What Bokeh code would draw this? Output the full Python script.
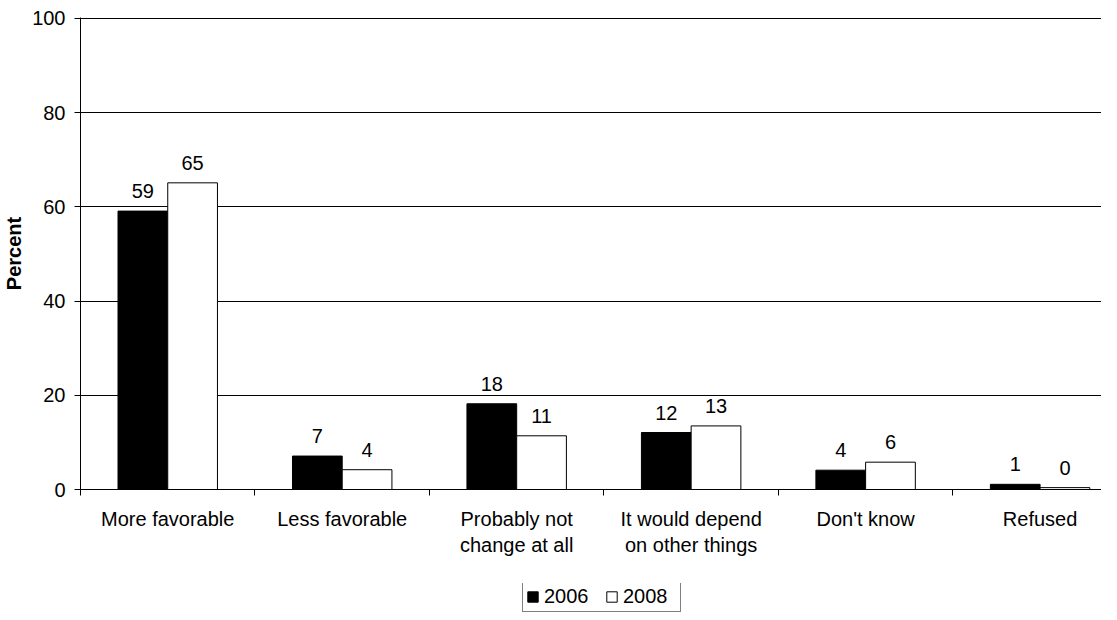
from bokeh.plotting import figure
from bokeh.models import (Range1d, FixedTicker, LinearAxis, Legend, LegendItem,
                          ColumnDataSource, Grid)
from bokeh.layouts import column
from bokeh.core.properties import value
from bokeh.embed import file_html
from bokeh.resources import INLINE

categories = ["More favorable", "Less favorable", "Probably not\nchange at all",
              "It would depend\non other things", "Don't know", "Refused"]
series_names = ["2006", "2008"]
values_2006 = [59.1, 7.1, 18.2, 12.1, 4.1, 1.1]
values_2008 = [65.1, 4.2, 11.4, 13.5, 5.8, 0.4]
labels_2006 = ["59", "7", "18", "12", "4", "1"]
labels_2008 = ["65", "4", "11", "13", "6", "0"]
y_ticks = [0, 20, 40, 60, 80, 100]

FONT = "Liberation Sans"
FS = "20px"
BAR_W = 0.285

n = len(categories)
centers = [i + 0.5 for i in range(n)]
x06 = [c - BAR_W / 2 for c in centers]
x08 = [c + BAR_W / 2 for c in centers]

p = figure(width=1101, height=583, output_backend="svg", toolbar_location=None,
           x_range=Range1d(0, 5.852), y_range=Range1d(0, 100.2),
           min_border_left=75, min_border_right=0, min_border_top=17,
           min_border_bottom=94, x_axis_type=None, y_axis_type=None)
p.outline_line_color = None
p.background_fill_color = "white"
p.border_fill_color = "white"

# y axis
yax = LinearAxis(ticker=FixedTicker(ticks=y_ticks))
yax.axis_label = "Percent"
yax.axis_label_text_font = FONT
yax.axis_label_text_font_size = FS
yax.axis_label_text_font_style = "bold"
yax.axis_label_text_color = "black"
yax.axis_label_standoff = 4
yax.major_label_text_font = FONT
yax.major_label_text_font_size = FS
yax.major_label_text_color = "black"
yax.major_label_standoff = 9
yax.major_tick_out = 6
yax.major_tick_in = 0
yax.minor_tick_out = 0
yax.minor_tick_in = 0
yax.axis_line_color = "black"
yax.major_tick_line_color = "black"
p.add_layout(yax, "left")

# x axis: labels at centres, ticks at category boundaries
xax = LinearAxis(ticker=FixedTicker(ticks=centers, minor_ticks=list(range(n + 1))))
xax.major_label_overrides = {c: lab for c, lab in zip(centers, categories)}
xax.major_label_text_font = FONT
xax.major_label_text_font_size = FS
xax.major_label_text_color = "black"
xax.major_label_standoff = 12
xax.major_tick_out = 0
xax.major_tick_in = 0
xax.minor_tick_out = 6
xax.minor_tick_in = 0
xax.minor_tick_line_color = "black"
xax.axis_line_color = "black"
p.add_layout(xax, "below")

grid = Grid(dimension=1, ticker=FixedTicker(ticks=y_ticks),
            grid_line_color="black", grid_line_width=1)
p.add_layout(grid)

src06 = ColumnDataSource(dict(x=x06, top=values_2006, lab=labels_2006))
src08 = ColumnDataSource(dict(x=x08, top=values_2008, lab=labels_2008))

p.vbar(x="x", top="top", width=BAR_W, bottom=0, source=src06,
       fill_color="black", line_color="black", line_width=1)
p.vbar(x="x", top="top", width=BAR_W, bottom=0, source=src08,
       fill_color="white", line_color="black", line_width=1)

for src in (src06, src08):
    p.text(x="x", y="top", text="lab", source=src, text_align="center",
           text_baseline="alphabetic", y_offset=-20,
           text_font=value(FONT), text_font_size=FS, text_color="black")

# legend strip below the chart
pl = figure(width=1101, height=29, output_backend="svg", toolbar_location=None,
            x_range=Range1d(100, 101), y_range=Range1d(100, 101),
            min_border=0, x_axis_type=None, y_axis_type=None)
pl.outline_line_color = None
pl.background_fill_color = "white"
pl.border_fill_color = "white"
l06 = pl.vbar(x="x", top="top", width=BAR_W, bottom=0, source=src06,
              fill_color="black", line_color="black", line_width=1)
l08 = pl.vbar(x="x", top="top", width=BAR_W, bottom=0, source=src08,
              fill_color="white", line_color="black", line_width=1)

legend = Legend(items=[LegendItem(label=series_names[0], renderers=[l06]),
                       LegendItem(label=series_names[1], renderers=[l08])],
                orientation="horizontal", location=(442, 0))
legend.label_text_font = FONT
legend.label_text_font_size = FS
legend.label_text_color = "black"
legend.glyph_width = 13
legend.glyph_height = 13
legend.label_standoff = 5
legend.label_width = 54
legend.spacing = 7
legend.padding = 3
legend.margin = 0
legend.border_line_color = "black"
legend.border_line_width = 1
legend.background_fill_color = "white"
legend.background_fill_alpha = 1
pl.add_layout(legend, "center")

layout = column(p, pl, spacing=0)
open("out.html", "w").write(file_html(layout, INLINE))
